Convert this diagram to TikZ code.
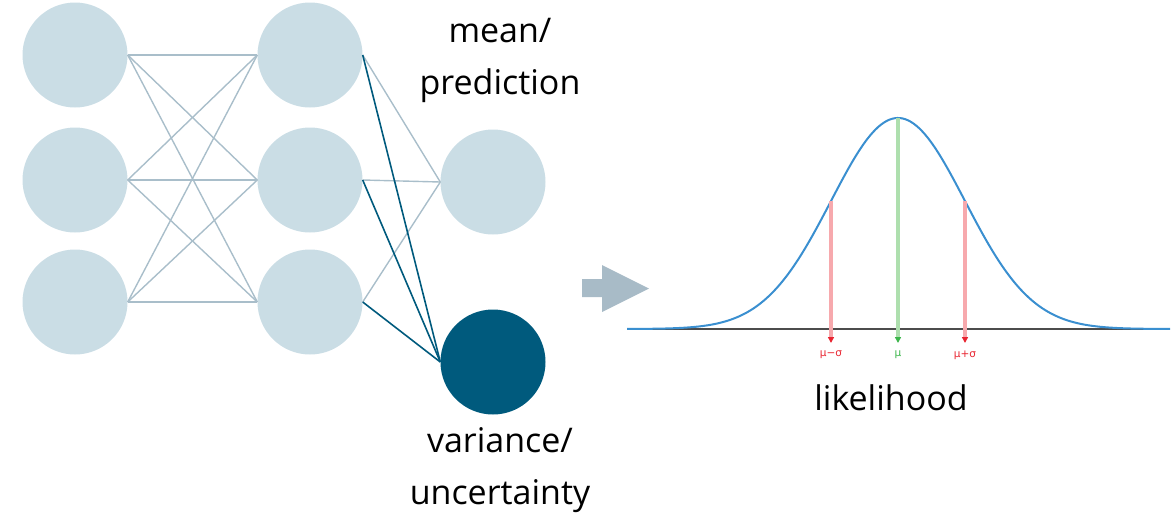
\documentclass[tikz,border=0pt]{standalone}
\usepackage{fontspec}
\setmainfont{Open Sans}
\newfontfamily\symfont{DejaVu Sans}
\usetikzlibrary{arrows.meta}
\definecolor{nodelight}{HTML}{CADDE5}
\definecolor{edgelight}{HTML}{A9BECA}
\definecolor{darkblue}{HTML}{005A7D}
\definecolor{curveblue}{HTML}{3A8FD0}
\definecolor{sigred}{HTML}{F7A9AD}
\definecolor{tipred}{HTML}{E82430}
\definecolor{mugreen}{HTML}{AEDFAE}
\definecolor{tipgreen}{HTML}{3BB54A}
\definecolor{arrowgray}{HTML}{A8BBC7}
\tikzset{
  neuron/.style={circle,fill=nodelight,minimum size=105pt,inner sep=0pt},
  outneuron/.style={circle,fill=darkblue,minimum size=105pt,inner sep=0pt},
  lightedge/.style={draw=edgelight,line width=1.4pt},
  darkedge/.style={draw=darkblue,line width=1.6pt},
  lbl/.style={font=\fontsize{34}{52}\selectfont,align=center,text=black},
  sigline/.style={draw=sigred,line width=3.8pt,-{Triangle[length=6pt,width=6pt,color=tipred]}},
  muline/.style={draw=mugreen,line width=3.8pt,-{Triangle[length=6pt,width=6pt,color=tipgreen]}},
  tiny/.style={font=\symfont\fontsize{10.5}{11}\selectfont}
}
\begin{document}
\begin{tikzpicture}[x=1pt,y=-1pt]
\useasboundingbox (0,0) rectangle (1173,515);
% input layer
\node[neuron] (i1) at (75,55) {};
\node[neuron] (i2) at (75,180) {};
\node[neuron] (i3) at (75,302) {};
% hidden layer
\node[neuron] (h1) at (310,55) {};
\node[neuron] (h2) at (310,180) {};
\node[neuron] (h3) at (310,302) {};
% outputs
\node[neuron] (m) at (493,182) {};
\node[outneuron] (v) at (493,362) {};
% edges input->hidden
\foreach \a in {1,2,3}{
  \foreach \b in {1,2,3}{
    \draw[lightedge] (i\a.east) -- (h\b.west);
  }
}
% hidden->mean
\foreach \b in {1,2,3}{
  \draw[lightedge] (h\b.east) -- (m.west);
}
% hidden->variance
\foreach \b in {1,2,3}{
  \draw[darkedge] (h\b.east) -- (v.west);
}
% labels
\node[lbl] (mlbl) at (500,60) {mean/\\prediction};
\node[lbl] (vlbl) at (500,470) {variance/\\uncertainty};
% gray arrow
\fill[arrowgray] (582,279) -- (602,279) -- (602,265) -- (649,288.5) -- (602,312) -- (602,297) -- (582,297) -- cycle;
% gaussian
\coordinate (bl) at (627,329);
\coordinate (br) at (1170,329);
\draw[draw=black!70,line width=2.2pt] (bl) -- (br);
\draw[curveblue,line width=2pt,domain=627:1170,samples=200,smooth] plot (\x,{329-211*exp(-0.5*((\x-898)/67)^2)});
\coordinate (mutop) at (898,118);
\coordinate (mubot) at (898,343);
\coordinate (lstop) at (831,201);
\coordinate (lsbot) at (831,343);
\coordinate (rstop) at (965,201);
\coordinate (rsbot) at (965,343);
\draw[sigline] (lstop) -- (lsbot);
\draw[sigline] (rstop) -- (rsbot);
\draw[muline] (mutop) -- (mubot);
\node[tiny,text=tipred] (l1) at (831,355) {μ−σ};
\node[tiny,text=tipgreen] (l2) at (898,355) {μ};
\node[tiny,text=tipred] (l3) at (965,355) {μ+σ};
\node[lbl] (lik) at (891,398) {likelihood};
\end{tikzpicture}
\end{document}
